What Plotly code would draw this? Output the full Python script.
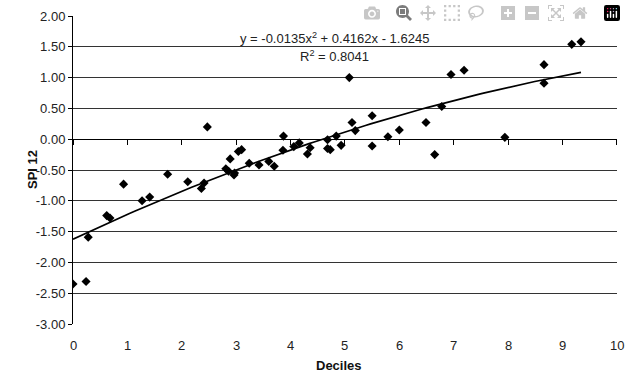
import numpy as np
import plotly.graph_objects as go

deciles = [0.0, 0.24, 0.28, 0.62, 0.68, 0.93, 1.27, 1.41, 1.74, 2.11, 2.36, 2.41, 2.47,
           2.81, 2.86, 2.89, 2.96, 2.97, 3.04, 3.10, 3.24, 3.42, 3.60, 3.70, 3.86, 3.87,
           4.06, 4.16, 4.31, 4.36, 4.68, 4.68, 4.73, 4.84, 4.93, 5.08, 5.13, 5.19, 5.50,
           5.50, 5.79, 6.00, 6.49, 6.65, 6.78, 6.95, 7.19, 7.94, 8.66, 8.66, 9.17, 9.34]
spi12 = [-2.35, -2.31, -1.59, -1.24, -1.28, -0.73, -1.00, -0.94, -0.57, -0.69, -0.80, -0.71, 0.20,
         -0.48, -0.52, -0.32, -0.58, -0.55, -0.20, -0.17, -0.39, -0.42, -0.36, -0.44, -0.18, 0.05,
         -0.12, -0.06, -0.24, -0.14, -0.01, -0.15, -0.17, 0.05, -0.10, 1.00, 0.27, 0.14, 0.38,
         -0.11, 0.04, 0.15, 0.27, -0.25, 0.53, 1.05, 1.12, 0.03, 1.21, 0.91, 1.54, 1.58]

coef = [-0.0135, 0.4162, -1.6245]  # quadratic trendline coefficients (a, b, c)
r2 = 0.8041
y_ticks = [2.0, 1.5, 1.0, 0.5, 0.0, -0.5, -1.0, -1.5, -2.0, -2.5, -3.0]
x_ticks = list(range(0, 11))
x_tick_labels = [str(v) for v in x_ticks]

xt = np.linspace(0, max(deciles), 100)
yt = np.polyval(coef, xt)

fig = go.Figure()
fig.add_trace(go.Scatter(x=deciles, y=spi12, mode="markers",
                         marker=dict(symbol="diamond", size=7, color="black"),
                         showlegend=False))
fig.add_trace(go.Scatter(x=xt, y=yt, mode="lines",
                         line=dict(color="black", width=1.7), showlegend=False))
fig.add_trace(go.Scatter(x=[0, 10], y=[0, 0], xaxis="x2", mode="lines",
                         line=dict(color="rgba(0,0,0,0)"), showlegend=False, hoverinfo="skip"))

W, H = 626, 372
L, T = 73, 16
R = W - 617
B = H - 324
PW, PH = W - L - R, H - T - B
XR = [0, 10.002]

font = dict(family="Liberation Sans, Arial, sans-serif", size=13, color="#222")
fig.update_layout(
    width=W, height=H,
    margin=dict(l=L, r=R, t=T, b=B),
    paper_bgcolor="white", plot_bgcolor="white",
    font=font,
    xaxis=dict(range=XR, tickvals=x_ticks, showticklabels=False,
               showgrid=False, zeroline=False, showline=False, ticks="",
               automargin=False),
    xaxis2=dict(range=XR, overlaying="x", anchor="free", position=0.6,
                tickvals=x_ticks, showticklabels=False, ticks="outside", ticklen=5,
                tickcolor="black", showline=True, linecolor="black", linewidth=1,
                showgrid=False, zeroline=False, automargin=False),
    yaxis=dict(range=[-3, 2], tickvals=y_ticks, ticktext=[f"{v:.2f}" for v in y_ticks],
               showgrid=True, gridcolor="#333", gridwidth=1, zeroline=False,
               showline=True, linecolor="black", linewidth=1, ticks="outside",
               ticklen=4, tickcolor="black", automargin=False),
)

def px(xp, yp):
    # window pixel -> paper coords
    return (xp - L) / PW, (H - B - yp) / PH

def note(xp, yp, text, **kw):
    ax, ay = px(xp, yp)
    fig.add_annotation(xref="paper", yref="paper", x=ax, y=ay, text=text,
                       xanchor="center", yanchor="middle", showarrow=False, **kw)

# x tick labels placed on the data scale of the x axis
_, lab_y = px(0, 345)
for v, t in zip(x_ticks, x_tick_labels):
    fig.add_annotation(xref="x", yref="paper", x=v, y=lab_y, text=t,
                       xanchor="center", yanchor="middle", showarrow=False,
                       font=dict(size=13, color="#222"))

note(334, 38, "y = -0.0135x<sup>2</sup> + 0.4162x - 1.6245", font=dict(size=13, color="#222"))
note(334, 56, f"R<sup>2</sup> = {r2:.4f}", font=dict(size=13, color="#222"))
note(339, 365, "<b>Deciles</b>", font=dict(size=13, color="#111"))
note(32, 170, "<b>SPI 12</b>", textangle=-90, font=dict(size=13, color="#111"))
fig.write_html("out.html",
               post_script="document.body.style.margin='0';document.body.style.overflow='hidden';")
